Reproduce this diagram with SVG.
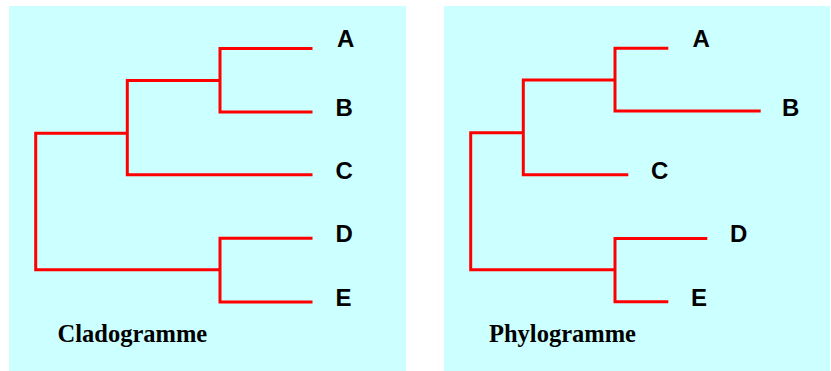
<svg xmlns="http://www.w3.org/2000/svg" width="831" height="371" viewBox="0 0 831 371">
  <style>
    .panel { fill: #ccffff; }
    .branch { fill: none; stroke: #ff0000; stroke-width: 3; stroke-linejoin: miter; stroke-linecap: butt; }
    .leaf { font-family: "Liberation Sans", Arial, sans-serif; font-weight: bold; font-size: 24px; fill: #000; }
    .title { font-family: "Liberation Serif", "Times New Roman", serif; font-weight: bold; font-size: 24.5px; fill: #000; }
  </style>
  <rect width="831" height="371" fill="#ffffff"/>

  <!-- Cladogramme panel -->
  <g id="cladogramme-panel">
    <rect class="panel" x="9" y="6" width="397" height="365"/>
    <text class="title" x="57.5" y="342">Cladogramme</text>
  </g>
  <g id="clado-leaf-A"><text class="leaf" x="337" y="47">A</text></g>
  <g id="clado-leaf-B"><text class="leaf" x="335.5" y="115.5">B</text></g>
  <g id="clado-leaf-C"><text class="leaf" x="335.5" y="178.5">C</text></g>
  <g id="clado-leaf-D"><text class="leaf" x="335.5" y="242">D</text></g>
  <g id="clado-leaf-E"><text class="leaf" x="335.5" y="305.5">E</text></g>

  <!-- Phylogramme panel -->
  <g id="phylogramme-panel">
    <rect class="panel" x="444" y="6" width="386" height="365"/>
    <text class="title" x="489" y="342">Phylogramme</text>
  </g>
  <g id="phylo-leaf-A"><text class="leaf" x="692.5" y="47">A</text></g>
  <g id="phylo-leaf-B"><text class="leaf" x="782" y="115.5">B</text></g>
  <g id="phylo-leaf-C"><text class="leaf" x="651" y="178.5">C</text></g>
  <g id="phylo-leaf-D"><text class="leaf" x="730" y="242">D</text></g>
  <g id="phylo-leaf-E"><text class="leaf" x="691" y="305.5">E</text></g>

  <!-- Branches -->
  <g id="connectors">
    <!-- cladogram: equal tip lengths -->
    <path class="branch" d="M312.5,48.5 H220 V112 H312.5"/>
    <path class="branch" d="M220,80.5 H127.3 V174.8 H312.5"/>
    <path class="branch" d="M127.3,133.3 H35.7 V269.8 H220"/>
    <path class="branch" d="M312.5,238.3 H220 V302 H312.5"/>
    <!-- phylogram: branch lengths proportional to change -->
    <path class="branch" d="M668.3,48.3 H615 V111 H760.7"/>
    <path class="branch" d="M615,80 H523.3 V174.7 H628.3"/>
    <path class="branch" d="M523.3,132.8 H470.7 V269.8 H615"/>
    <path class="branch" d="M707.3,238.5 H615 V301.8 H668.3"/>
  </g>
</svg>
